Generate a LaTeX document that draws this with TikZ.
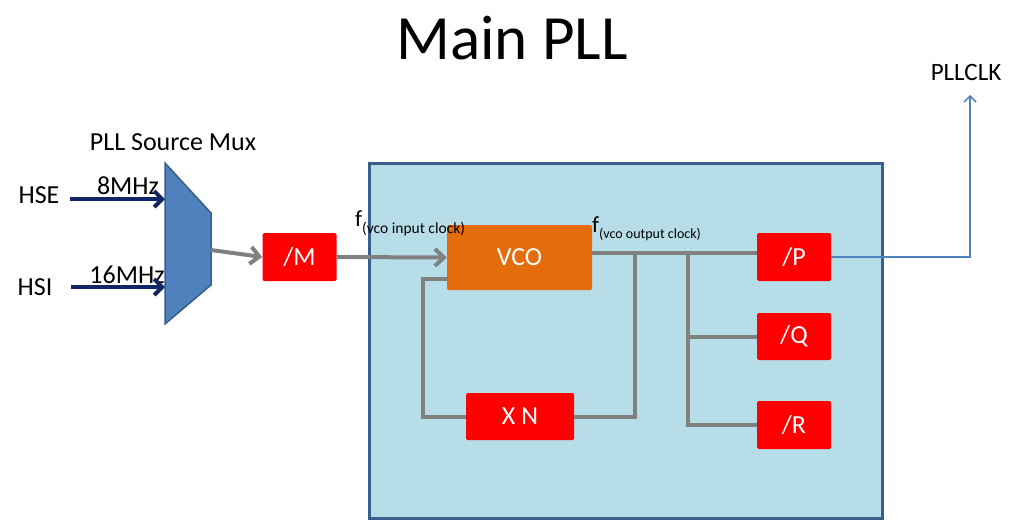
\documentclass[tikz,border=0pt]{standalone}
\usepackage{fontspec}
\setmainfont{Carlito}
\usetikzlibrary{arrows.meta}
\definecolor{pllfill}{HTML}{B7DEE8}
\definecolor{pllborder}{HTML}{3B5F8C}
\definecolor{muxfill}{HTML}{4F81BD}
\definecolor{muxborder}{HTML}{385D8A}
\definecolor{navy}{RGB}{16,38,102}
\definecolor{wiregray}{HTML}{808080}
\definecolor{boxred}{HTML}{FF0000}
\definecolor{boxorange}{HTML}{E46C0A}
\definecolor{clkblue}{HTML}{4F81BD}
\tikzset{
  lbl/.style={inner sep=0pt, font=\fontsize{26}{26}\selectfont},
  divbox/.style={fill=boxred, draw=none, rounded corners=1.5pt, text=white,
    minimum width=74pt, minimum height=48pt, inner sep=0pt,
    font=\fontsize{26}{26}\selectfont},
  wire/.style={draw=wiregray, line width=4pt},
  wirearrow/.style={wire, -{Straight Barb[length=9pt,width=17pt]}},
  inarrow/.style={draw=navy, line width=4pt, -{Straight Barb[length=8pt,width=16pt]}},
  clkline/.style={draw=clkblue, line width=1.5pt, -{Straight Barb[length=6pt,width=12pt]}},
}
\begin{document}
\begin{tikzpicture}[x=1pt,y=-1pt]
\useasboundingbox (0,0) rectangle (1024,528);
% title
\node[inner sep=0pt, font=\fontsize{63}{63}\selectfont] (title) at (512,38) {Main PLL};
% PLL block
\draw[fill=pllfill, draw=pllborder, line width=3pt] (369,163) rectangle (882,518);
% mux
\coordinate (muxtl) at (165,163);
\coordinate (muxtr) at (211,213);
\coordinate (muxbr) at (211,285);
\coordinate (muxbl) at (165,324);
\coordinate (muxin1) at (165,199);
\coordinate (muxin2) at (165,287);
\coordinate (muxout) at (211,250);
\draw[fill=muxfill, draw=muxborder, line width=1.5pt] (muxtl) -- (muxtr) -- (muxbr) -- (muxbl) -- cycle;
\node[lbl] (muxlbl) at (173,142) {PLL Source Mux};
\node[lbl] (hse) at (39,195) {HSE};
\node[lbl] (hsi) at (35,287) {HSI};
\node[lbl] (f8) at (128,186) {8MHz};
\node[lbl] (f16) at (127,275) {16MHz};
% boxes
\node[divbox] (m) at (299.5,257) {/M};
\node[divbox, fill=boxorange, minimum width=145pt, minimum height=65pt] (vco) at (519.5,257.5) {VCO};
\node[divbox, minimum width=108pt, minimum height=47pt] (xn) at (520,416.5) {X\hspace{6pt}N};
\node[divbox] (p) at (794,257) {/P};
\node[divbox, minimum height=47pt] (q) at (794,336.5) {/Q};
\node[divbox] (r) at (794,425) {/R};
% labels f
\node[inner sep=0pt, anchor=base west] (fin) at (355,226)
  {\fontsize{23}{23}\selectfont f\raisebox{-7pt}{\fontsize{15.5}{15.5}\selectfont (vco input clock)}};
\node[inner sep=0pt, anchor=base west] (fout) at (592,232)
  {\fontsize{23}{23}\selectfont f\raisebox{-6pt}{\fontsize{14}{14}\selectfont (vco output clock)}};
\node[lbl, font=\fontsize{25}{25}\selectfont] (pllclk) at (966,72) {PLLCLK};
% input arrows
\draw[inarrow] ([xshift=10pt]hse.east |- muxin1) -- (muxin1);
\draw[inarrow] ([xshift=18pt]hsi.east |- muxin2) -- (muxin2);
\draw[wirearrow] (muxout) -- (m.west);
\draw[wirearrow] (m.east) -- (vco.west);
% VCO output and branches
\coordinate (j1) at (635,253);
\coordinate (j2) at (688,253);
\coordinate (fb) at (423,279);
\coordinate (clkend) at (970,95);
\draw[wire] (vco.east |- j1) -- (p.west |- j1);
\draw[wire] (j1) |- (xn.east);
\draw[wire] (xn.west) -| (fb) -- (vco.west |- fb);
\draw[wire] (j2) |- (q.west);
\draw[wire] (j2) |- (r.west);
% output clock
\draw[clkline] (p.east) -| (clkend);
\end{tikzpicture}
\end{document}
